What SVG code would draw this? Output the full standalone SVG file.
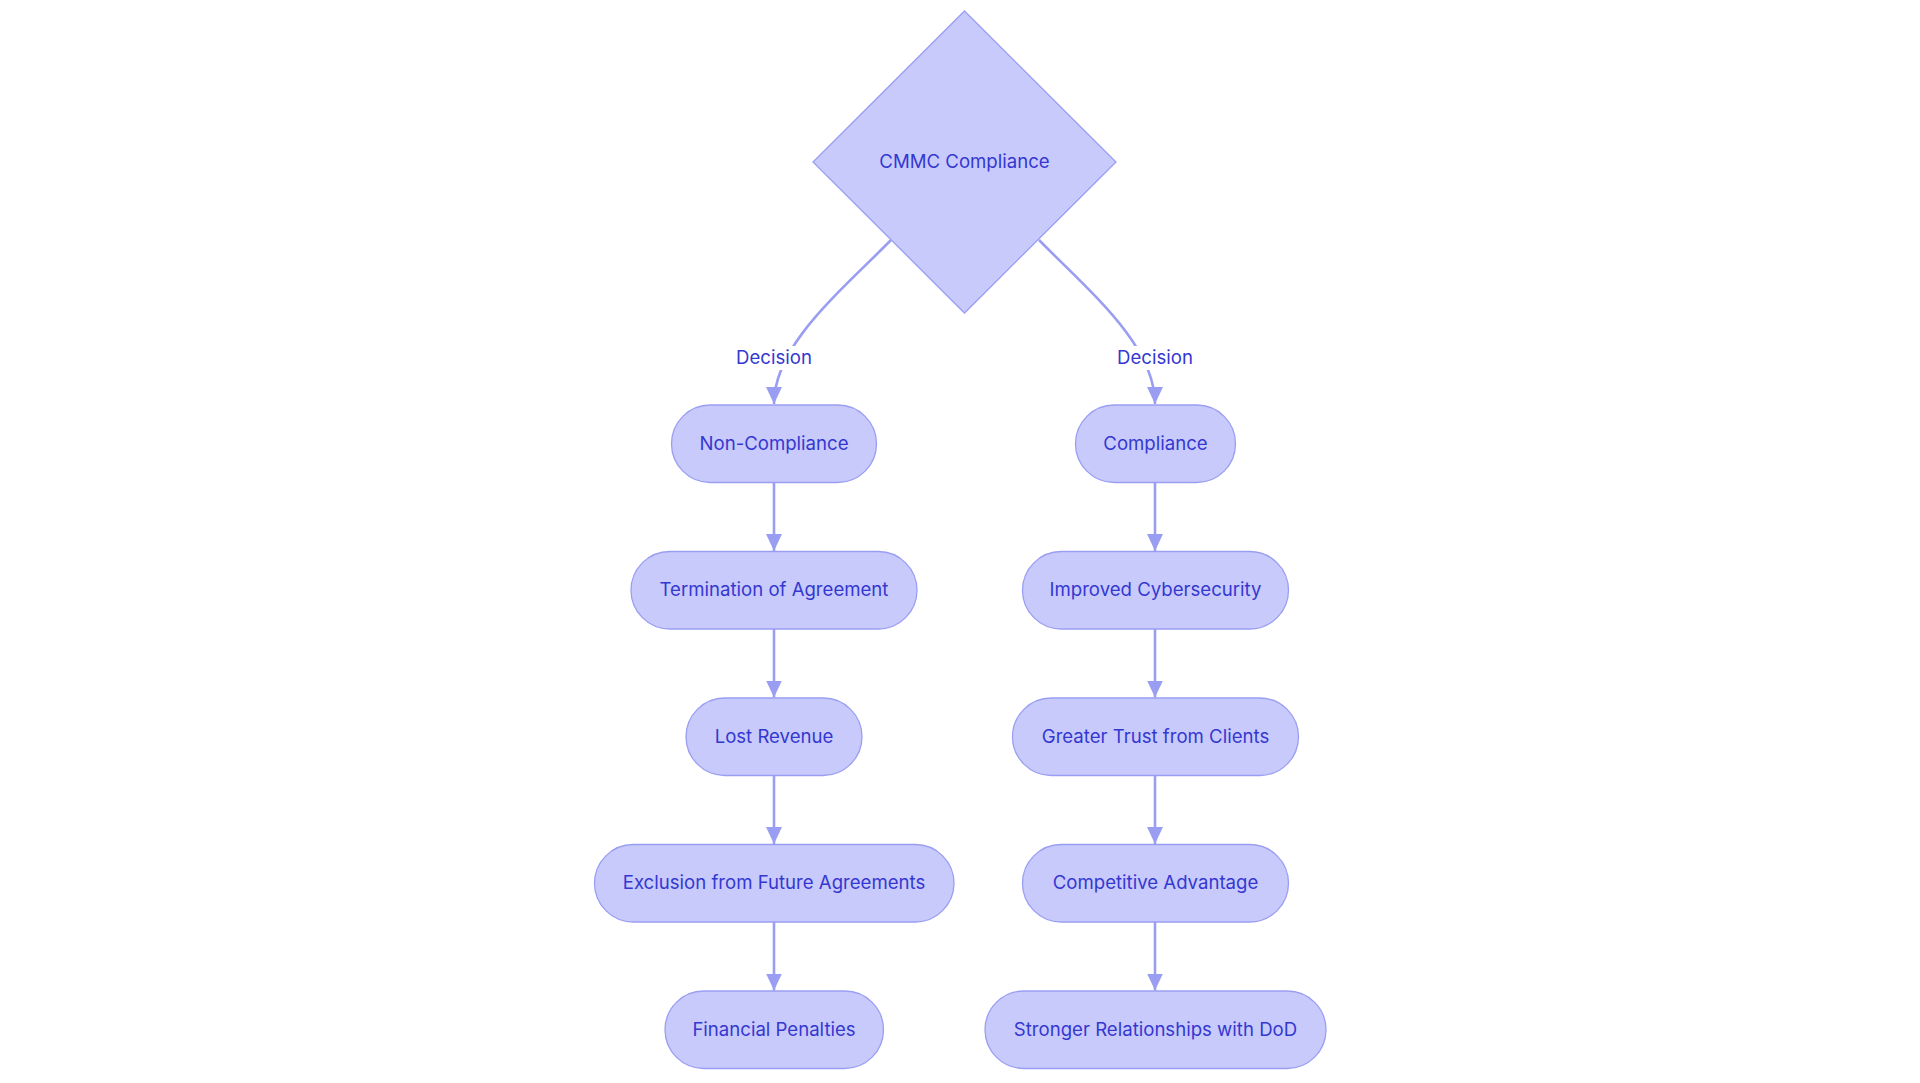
<svg xmlns="http://www.w3.org/2000/svg" width="1920" height="1083" viewBox="0 0 1920 1083">
<defs>
<marker id="arrow" viewBox="0 0 17 16" refX="17" refY="8" markerWidth="17" markerHeight="16" markerUnits="userSpaceOnUse" orient="auto">
<path d="M0,0 L17,8 L0,16 z" fill="#9A9EF2"/>
</marker>
<style>
.node{fill:#C8CAFB;stroke:#9A9EF2;stroke-width:1.3}
.lbl{font-family:Inter,"Liberation Sans",sans-serif;font-size:18.6px;fill:#3438D1;text-anchor:middle;dominant-baseline:central}
.edge{fill:none;stroke:#9A9EF2;stroke-width:2.6}
</style>
</defs>
<rect width="1920" height="1083" fill="#ffffff"/>
<g id="connectors">
<path class="edge" d="M891,240 C840,292 774,345 774,404" marker-end="url(#arrow)"/>
<path class="edge" d="M1039,240 C1090,292 1155,345 1155,404" marker-end="url(#arrow)"/>
<path class="edge" d="M774,482.5 L774,551" marker-end="url(#arrow)"/>
<path class="edge" d="M774,629 L774,697.5" marker-end="url(#arrow)"/>
<path class="edge" d="M774,775.5 L774,844" marker-end="url(#arrow)"/>
<path class="edge" d="M774,922 L774,990.5" marker-end="url(#arrow)"/>
<path class="edge" d="M1155,482.5 L1155,551" marker-end="url(#arrow)"/>
<path class="edge" d="M1155,629 L1155,697.5" marker-end="url(#arrow)"/>
<path class="edge" d="M1155,775.5 L1155,844" marker-end="url(#arrow)"/>
<path class="edge" d="M1155,922 L1155,990.5" marker-end="url(#arrow)"/>
<rect x="732" y="346" width="84" height="24" fill="#ffffff"/>
<text class="lbl" x="774" y="357">Decision</text>
<rect x="1113" y="346" width="84" height="24" fill="#ffffff"/>
<text class="lbl" x="1155" y="357">Decision</text>
</g>
<g id="cmmc">
<polygon class="node" points="964.5,11 1116,162 964.5,313 813,162"/>
<text class="lbl" x="964.5" y="161">CMMC Compliance</text>
</g>
<g id="noncompliance">
<rect class="node" x="671.5" y="405" width="205" height="77.5" rx="38.75"/>
<text class="lbl" x="774" y="442.75">Non-Compliance</text>
</g>
<g id="termination">
<rect class="node" x="631" y="551.5" width="286" height="77.5" rx="38.75"/>
<text class="lbl" x="774" y="589.25">Termination of Agreement</text>
</g>
<g id="lostrevenue">
<rect class="node" x="686" y="698" width="176" height="77.5" rx="38.75"/>
<text class="lbl" x="774" y="735.75">Lost Revenue</text>
</g>
<g id="exclusion">
<rect class="node" x="594.5" y="844.5" width="359.5" height="77.5" rx="38.75"/>
<text class="lbl" x="774" y="882.25">Exclusion from Future Agreements</text>
</g>
<g id="penalties">
<rect class="node" x="665" y="991" width="218.5" height="77.5" rx="38.75"/>
<text class="lbl" x="774" y="1028.75">Financial Penalties</text>
</g>
<g id="compliance">
<rect class="node" x="1075.5" y="405" width="160" height="77.5" rx="38.75"/>
<text class="lbl" x="1155.5" y="442.75">Compliance</text>
</g>
<g id="cybersecurity">
<rect class="node" x="1022.5" y="551.5" width="266" height="77.5" rx="38.75"/>
<text class="lbl" x="1155.5" y="589.25">Improved Cybersecurity</text>
</g>
<g id="trust">
<rect class="node" x="1012.5" y="698" width="286" height="77.5" rx="38.75"/>
<text class="lbl" x="1155.5" y="735.75">Greater Trust from Clients</text>
</g>
<g id="advantage">
<rect class="node" x="1022.5" y="844.5" width="266" height="77.5" rx="38.75"/>
<text class="lbl" x="1155.5" y="882.25">Competitive Advantage</text>
</g>
<g id="relationships">
<rect class="node" x="985" y="991" width="341" height="77.5" rx="38.75"/>
<text class="lbl" x="1155.5" y="1028.75">Stronger Relationships with DoD</text>
</g>
</svg>
